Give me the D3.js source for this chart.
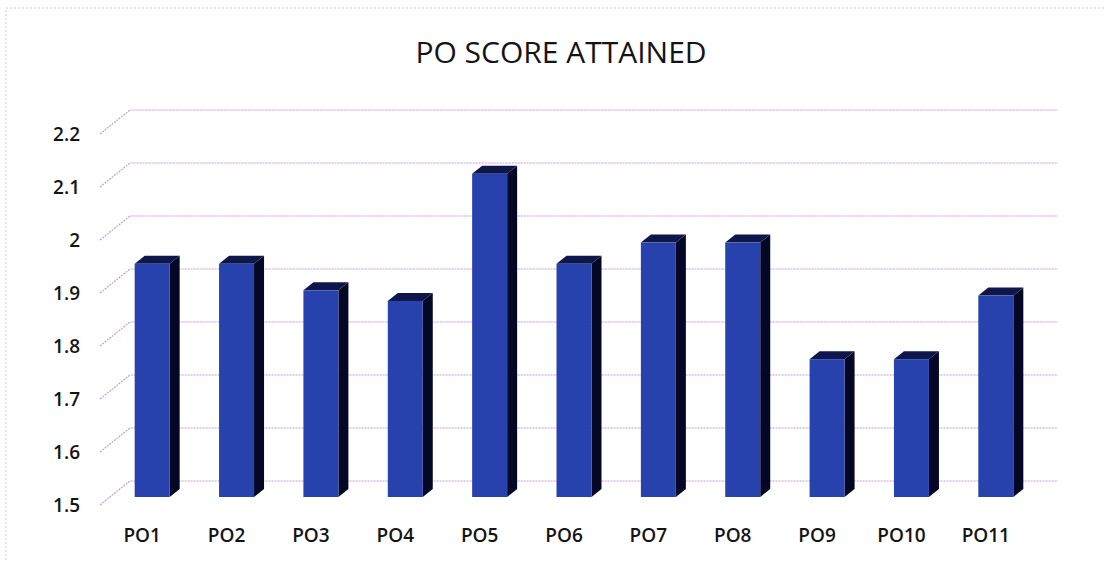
<!DOCTYPE html>
<html>
<head>
  <meta charset="UTF-8">
  <title>PO Score Attained</title>
  <script src="https://d3js.org/d3.v7.min.js"></script>
  <style>
    body { margin: 0; background: #fff; }
    text { font-family: "Open Sans", Lato, sans-serif; fill: #141414; }
  </style>
</head>
<body>

<div class="chart"></div>

<script>

  var categories = ['PO1', 'PO2', 'PO3', 'PO4', 'PO5', 'PO6', 'PO7', 'PO8', 'PO9', 'PO10', 'PO11'];
  var scores = [1.94, 1.94, 1.89, 1.87, 2.11, 1.94, 1.98, 1.98, 1.76, 1.76, 1.88];
  var yTicks = [1.5, 1.6, 1.7, 1.8, 1.9, 2, 2.1, 2.2];
  var title = 'PO SCORE ATTAINED';

  var width = 1104, height = 562;

  // back wall of the 3d plot
  var wall = { left: 130, right: 1058, top: 110, bottom: 481 };
  // offset from back wall to the front edge of the floor
  var depth = { dx: -30, dy: 24 };
  var barW = 35;

  var svg = d3.select('.chart')
    .append('svg')
      .attr('width', width)
      .attr('height', height);

  // faint scan frame
  svg.append('path')
    .attr('d', 'M6,560 L6,8 L1104,8')
    .style('fill', 'none')
    .style('stroke', '#d9c4e6')
    .style('stroke-dasharray', '2,2');

  var xScale = d3.scaleBand()
    .domain(categories)
    .range([wall.left, wall.right]);

  var yScale = d3.scaleLinear()
    .domain([1.5, 2.2])
    .range([wall.bottom, wall.top]);

  // gridlines: diagonal on the side wall, then across the back wall
  svg.selectAll('.grid')
    .data(yTicks)
    .enter()
    .append('path')
      .attr('class', 'grid')
      .attr('d', d => {
        var y = yScale(d);
        return `M${wall.left + depth.dx},${y + depth.dy} L${wall.left},${y} L${wall.right},${y}`;
      })
      .style('fill', 'none')
      .style('stroke', '#c39cda')
      .style('stroke-width', 1.2)
      .style('stroke-dasharray', '2,1');

  // y labels sit on the front plane
  svg.selectAll('.ylab')
    .data(yTicks)
    .enter()
    .append('text')
      .attr('class', 'ylab')
      .attr('x', 80)
      .attr('y', d => yScale(d) + depth.dy)
      .attr('dy', '0.36em')
      .attr('text-anchor', 'end')
      .style('font-size', '19px')
      .style('font-weight', 600)
      .text(d => d);

  // bars sit 1/3 of the way to the front
  var f = 2 / 3, b = 1 / 3;
  var bars = svg.selectAll('.bar')
    .data(scores)
    .enter()
    .append('g')
      .attr('class', 'bar');

  function pts(list) { return list.map(p => p.join(',')).join(' '); }

  bars.each(function (d, i) {
    var g = d3.select(this);
    var cx = xScale(categories[i]) + xScale.bandwidth() / 2;
    var x0 = cx - barW / 2, x1 = cx + barW / 2;
    var yt = yScale(d), yb = yScale(1.5);
    var fx = depth.dx * f, fy = depth.dy * f;
    var bx = depth.dx * b, by = depth.dy * b;

    // side face
    g.append('polygon')
      .attr('points', pts([[x1 + fx, yt + fy], [x1 + bx, yt + by], [x1 + bx, yb + by], [x1 + fx, yb + fy]]))
      .style('fill', '#050824');
    // top face
    g.append('polygon')
      .attr('points', pts([[x0 + fx, yt + fy], [x0 + bx, yt + by], [x1 + bx, yt + by], [x1 + fx, yt + fy]]))
      .style('fill', '#0f174a');
    // front face
    g.append('rect')
      .attr('x', x0 + fx)
      .attr('y', yt + fy)
      .attr('width', barW)
      .attr('height', yb - yt)
      .style('fill', '#2842ad');
  });

  // category labels on the front edge of the floor
  svg.selectAll('.xlab')
    .data(categories)
    .enter()
    .append('text')
      .attr('class', 'xlab')
      .attr('x', d => xScale(d) + xScale.bandwidth() / 2 + depth.dx)
      .attr('y', 542)
      .attr('text-anchor', 'middle')
      .style('font-size', '19px')
      .style('font-weight', 600)
      .text(d => d);

  svg.append('text')
    .attr('x', 561)
    .attr('y', 63)
    .attr('text-anchor', 'middle')
    .style('font-size', '30px')
    .style('font-weight', 500)
    .text(title);

</script>

</body>
</html>
